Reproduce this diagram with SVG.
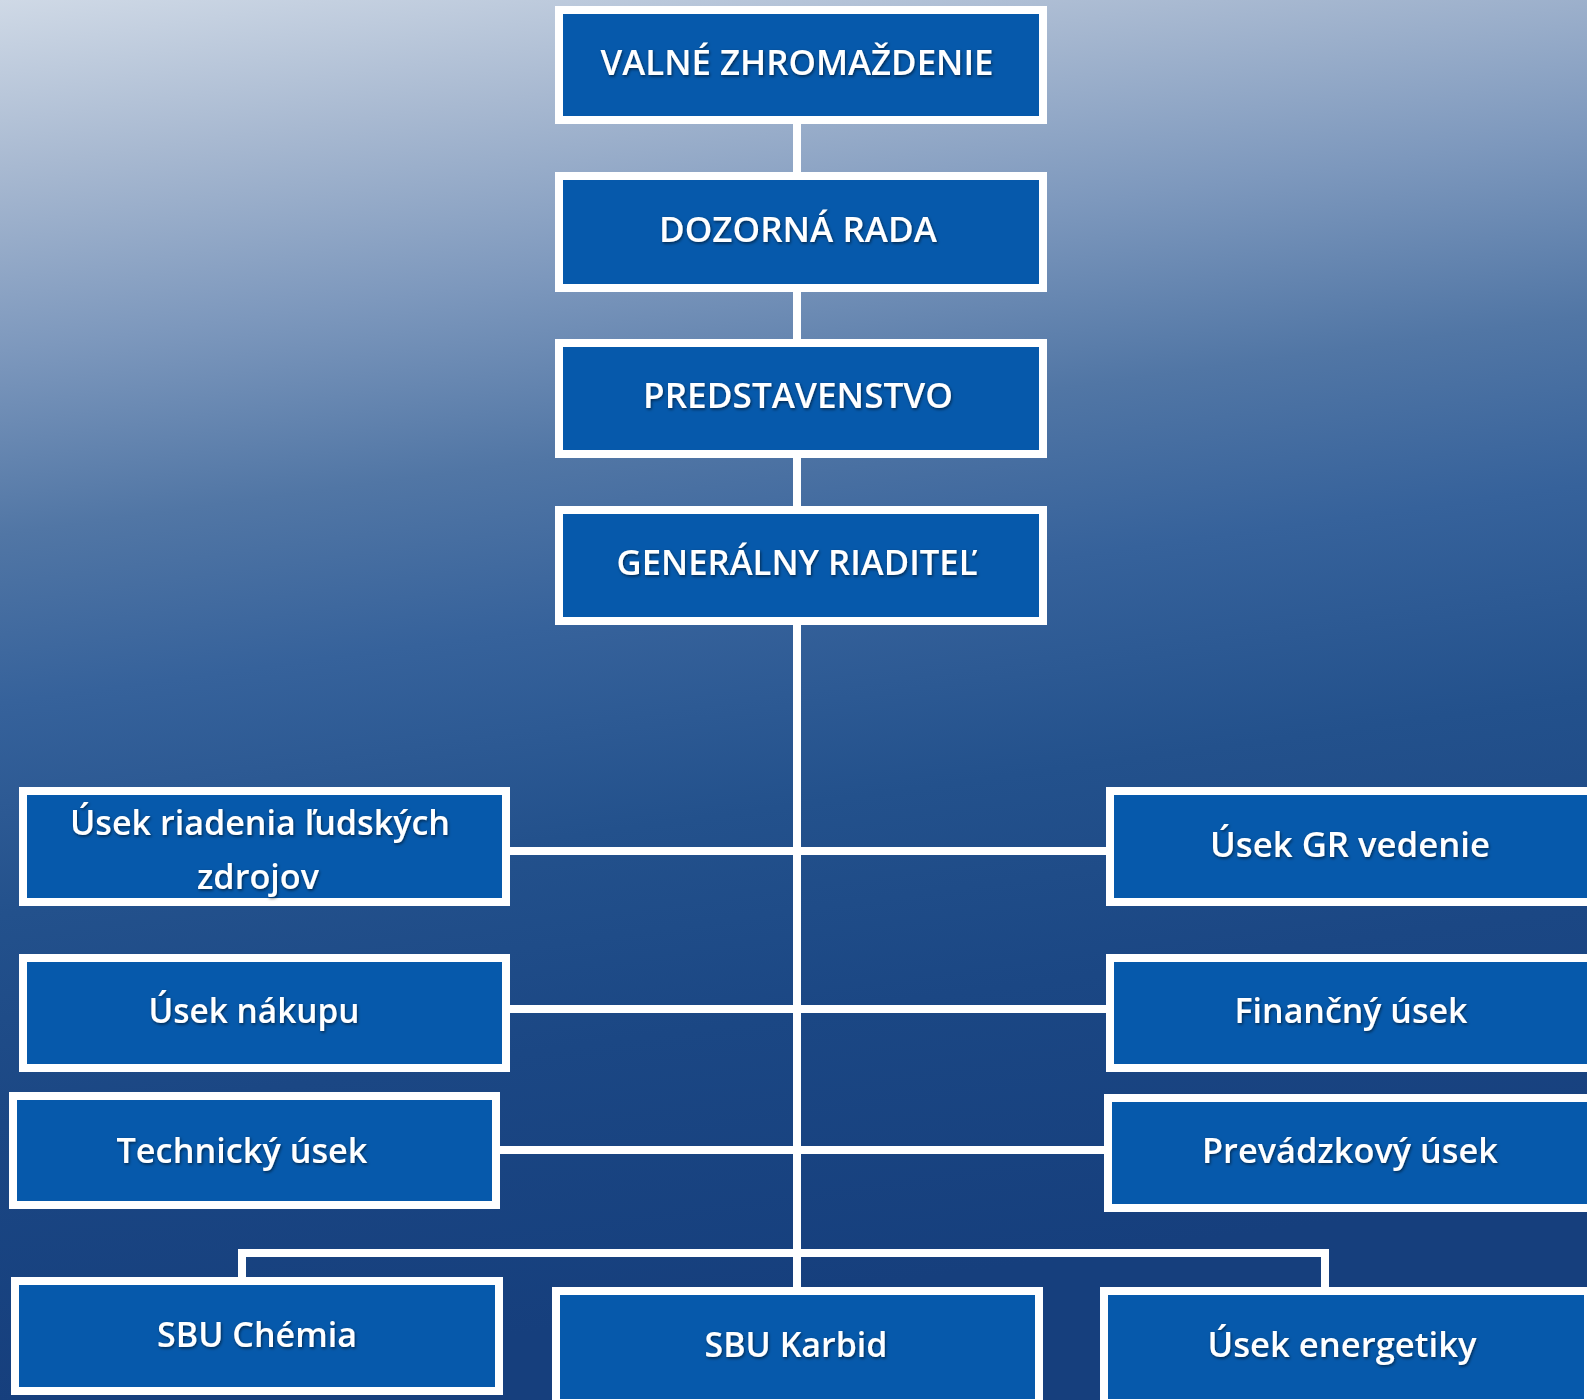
<svg xmlns="http://www.w3.org/2000/svg" width="1587" height="1400" viewBox="0 0 1587 1400">
<defs>
<linearGradient id="bg" gradientUnits="userSpaceOnUse" x1="0" y1="0" x2="190" y2="1380">
<stop offset="0" stop-color="#cfd9e6"/>
<stop offset="0.12" stop-color="#a8b9d1"/>
<stop offset="0.25" stop-color="#7d98bd"/>
<stop offset="0.38" stop-color="#5176a5"/>
<stop offset="0.5" stop-color="#36629b"/>
<stop offset="0.65" stop-color="#23518c"/>
<stop offset="0.8" stop-color="#1b4784"/>
<stop offset="1" stop-color="#163f7d"/>
</linearGradient>
<filter id="sh" x="-10%" y="-30%" width="120%" height="160%">
<feDropShadow dx="1" dy="1.5" stdDeviation="1.5" flood-color="#000" flood-opacity="0.55"/>
</filter>
</defs>
<style>
.box{fill:#0659ab;stroke:#ffffff;stroke-width:8}
.lbl{font-family:"Open Sans","Noto Sans","Liberation Sans",sans-serif;font-weight:600;font-size:35px;fill:#ffffff;text-anchor:middle;filter:url(#sh)}
.con{stroke:#ffffff;stroke-width:8;fill:none}
</style>
<rect x="0" y="0" width="1587" height="1400" fill="url(#bg)"/>
<g id="connectors">
<line class="con" x1="797" y1="120" x2="797" y2="1291"/>
<line class="con" x1="506" y1="851" x2="1110" y2="851"/>
<line class="con" x1="506" y1="1009" x2="1110" y2="1009"/>
<line class="con" x1="496" y1="1150" x2="1108" y2="1150"/>
<path class="con" d="M242 1281 V1253 H1325 V1291"/>
</g>
<g id="n1"><rect class="box" x="559" y="10" width="484" height="110"/><text class="lbl" x="797" y="75" textLength="393" lengthAdjust="spacingAndGlyphs">VALNÉ ZHROMAŽDENIE</text></g>
<g id="n2"><rect class="box" x="559" y="176" width="484" height="112"/><text class="lbl" x="798" y="242" textLength="278" lengthAdjust="spacingAndGlyphs">DOZORNÁ RADA</text></g>
<g id="n3"><rect class="box" x="559" y="343" width="484" height="111"/><text class="lbl" x="798" y="408" textLength="310" lengthAdjust="spacingAndGlyphs">PREDSTAVENSTVO</text></g>
<g id="n4"><rect class="box" x="559" y="510" width="484" height="111"/><text class="lbl" x="797" y="575" textLength="361" lengthAdjust="spacingAndGlyphs">GENERÁLNY RIADITEĽ</text></g>
<g id="n5"><rect class="box" x="23" y="791" width="483" height="111"/><text class="lbl" x="260" y="835" textLength="380" lengthAdjust="spacingAndGlyphs">Úsek riadenia ľudských</text><text class="lbl" x="258" y="889" textLength="122" lengthAdjust="spacingAndGlyphs">zdrojov</text></g>
<g id="n6"><rect class="box" x="1110" y="791" width="484" height="111"/><text class="lbl" x="1350" y="857" textLength="280" lengthAdjust="spacingAndGlyphs">Úsek GR vedenie</text></g>
<g id="n7"><rect class="box" x="23" y="958" width="483" height="110"/><text class="lbl" x="254" y="1023" textLength="211" lengthAdjust="spacingAndGlyphs">Úsek nákupu</text></g>
<g id="n8"><rect class="box" x="1110" y="958" width="484" height="110"/><text class="lbl" x="1351" y="1023" textLength="233" lengthAdjust="spacingAndGlyphs">Finančný úsek</text></g>
<g id="n9"><rect class="box" x="13" y="1096" width="483" height="109"/><text class="lbl" x="242" y="1163" textLength="251" lengthAdjust="spacingAndGlyphs">Technický úsek</text></g>
<g id="n10"><rect class="box" x="1108" y="1098" width="484" height="110"/><text class="lbl" x="1350" y="1163" textLength="296" lengthAdjust="spacingAndGlyphs">Prevádzkový úsek</text></g>
<g id="n11"><rect class="box" x="15" y="1281" width="484" height="110"/><text class="lbl" x="257" y="1347" textLength="200" lengthAdjust="spacingAndGlyphs">SBU Chémia</text></g>
<g id="n12"><rect class="box" x="556" y="1291" width="483" height="112"/><text class="lbl" x="796" y="1357" textLength="183" lengthAdjust="spacingAndGlyphs">SBU Karbid</text></g>
<g id="n13"><rect class="box" x="1104" y="1291" width="484" height="112"/><text class="lbl" x="1342" y="1357" textLength="269" lengthAdjust="spacingAndGlyphs">Úsek energetiky</text></g>
</svg>
